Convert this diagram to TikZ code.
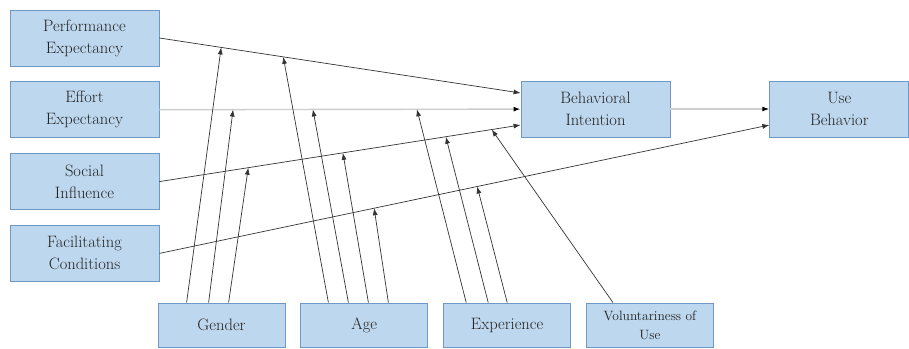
\documentclass[tikz,border=0pt]{standalone}
\usepackage{fontspec}
\usetikzlibrary{arrows.meta, positioning}
\definecolor{utblue}{RGB}{189, 215, 238}
\definecolor{utborder}{RGB}{112, 152, 198}
\definecolor{uttext}{RGB}{35, 35, 35}
\definecolor{utgray}{RGB}{205, 205, 205}
\tikzset{
  box/.style={draw=utborder, fill=utblue, align=center, text=uttext, font=\rmfamily\fontsize{16.5}{22}\selectfont, minimum width=149pt, minimum height=56pt, inner sep=2pt, line width=0.8pt},
  modbox/.style={box, minimum width=127pt, minimum height=44pt},
  arr/.style={-{Latex[length=7pt, width=5pt]}, line width=0.7pt, black!80},
  garr/.style={-{Latex[length=7pt, width=5pt, color=black]}, line width=1.4pt, utgray}
}

\begin{document}
\begin{tikzpicture}[x=1pt, y=-1pt]
\useasboundingbox (0,0) rectangle (909,348);
% constructs
\node[box] (pe) at (84.5,38) {Performance\\Expectancy};
\node[box, below=15pt of pe] (ee) {Effort\\Expectancy};
\node[box, below=15pt of ee] (si) {Social\\Influence};
\node[box, below=15pt of si] (fc) {Facilitating\\Conditions};
\node[box] (bi) at (595.5,109) {Behavioral\\Intention};
\node[box, minimum width=139pt, right=99pt of bi] (ub) {Use\\Behavior};
% moderators
\node[modbox] (gen) at (221.5,325) {Gender};
\node[modbox, right=15pt of gen] (age) {Age};
\node[modbox, right=15pt of age] (exp) {Experience};
\node[modbox, right=15pt of exp, font=\rmfamily\fontsize{13.5}{19}\selectfont] (vol) {Voluntariness of\\Use};
% main paths
\draw[garr] (ee) -- (bi)
  coordinate[pos=0.204] (ee-g) coordinate[pos=0.425] (ee-a) coordinate[pos=0.713] (ee-e);
\draw[garr] (bi) -- (ub);
\draw[arr] (pe.east) -- ([yshift=16pt]bi.west)
  coordinate[pos=0.171] (pe-g) coordinate[pos=0.343] (pe-a);
\draw[arr] (si.east) -- ([yshift=-16pt]bi.west)
  coordinate[pos=0.246] (si-g) coordinate[pos=0.508] (si-a) coordinate[pos=0.793] (si-e) coordinate[pos=0.92] (si-v);
\draw[arr] (fc.east) -- ([yshift=-16pt]ub.west)
  coordinate[pos=0.352] (fc-a) coordinate[pos=0.521] (fc-e);
% moderating effects
\draw[arr] ([xshift=29pt]gen.north west) -- (pe-g);
\draw[arr] ([xshift=51pt]gen.north west) -- (ee-g);
\draw[arr] ([xshift=71pt]gen.north west) -- (si-g);
\draw[arr] ([xshift=28pt]age.north west) -- (pe-a);
\draw[arr] ([xshift=48pt]age.north west) -- (ee-a);
\draw[arr] ([xshift=68pt]age.north west) -- (si-a);
\draw[arr] ([xshift=88pt]age.north west) -- (fc-a);
\draw[arr] ([xshift=23pt]exp.north west) -- (ee-e);
\draw[arr] ([xshift=45pt]exp.north west) -- (si-e);
\draw[arr] ([xshift=64pt]exp.north west) -- (fc-e);
\draw[arr] ([xshift=27pt]vol.north west) -- (si-v);
\end{tikzpicture}
\end{document}
